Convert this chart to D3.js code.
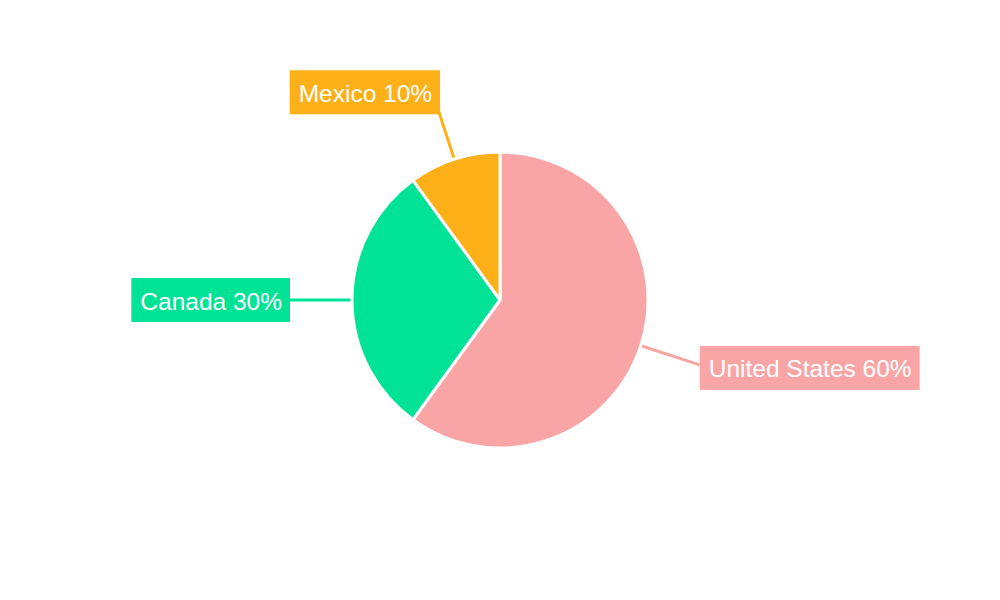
<!DOCTYPE html>
<html><head><meta charset="utf-8">
<script src="https://cdn.jsdelivr.net/npm/d3@7"></script>
<style>body{margin:0;background:#fff}svg{display:block}</style>
</head><body>
<svg id="c" width="1000" height="600"></svg>
<script>
const categories = ["United States", "Canada", "Mexico"];
const values = [60, 30, 10];
const colors = ["#f9a5a6", "#00e396", "#feb019"];

const data = categories.map((c, i) => ({name: c, value: values[i], color: colors[i]}));
const svg = d3.select("#c");
const cx = 500, cy = 300, R = 148;
const g = svg.append("g").attr("transform", `translate(${cx},${cy})`);
const pie = d3.pie().value(d => d.value).sort(null);
const arcs = pie(data);
const arc = d3.arc().innerRadius(0).outerRadius(R);
const lineStart = d3.arc().innerRadius(R + 1).outerRadius(R + 1);
const lineEnd = d3.arc().innerRadius(210).outerRadius(210);

// leader lines
g.selectAll("line.lead").data(arcs).enter().append("line")
  .attr("x1", d => lineStart.centroid(d)[0]).attr("y1", d => lineStart.centroid(d)[1])
  .attr("x2", d => lineEnd.centroid(d)[0]).attr("y2", d => lineEnd.centroid(d)[1])
  .attr("stroke", d => d.data.color).attr("stroke-width", 3);

g.selectAll("path").data(arcs).enter().append("path")
  .attr("d", arc).attr("fill", d => d.data.color)
  .attr("stroke", "#fff").attr("stroke-width", 3).attr("stroke-linejoin", "round");

const labels = g.selectAll("g.lab").data(arcs).enter().append("g");
labels.each(function(d) {
  const sel = d3.select(this);
  const [ax, ay] = lineEnd.centroid(d);
  const mid = (d.startAngle + d.endAngle) / 2;
  const right = Math.sin(mid) > 0;
  const rect = sel.append("rect").attr("fill", d.data.color);
  const t = sel.append("text").text(`${d.data.name} ${d.data.value}%`)
    .attr("font-family", "'Liberation Sans', Arial, sans-serif")
    .attr("font-size", 24.5).attr("fill", "#fff").attr("dominant-baseline", "central");
  const w = t.node().getComputedTextLength();
  const padL = 9, padR = 8, h = 44;
  const bw = w + padL + padR;
  let bx = right ? ax : ax - bw;
  let byc = ay;
  if (Math.abs(Math.cos(mid)) > 0.9) byc = ay - 8;
  else if (right) byc = ay + 3;
  if (!right && Math.abs(Math.cos(mid)) > 0.9) bx = ax - bw + 5;
  rect.attr("x", bx).attr("y", byc - h / 2).attr("width", bw).attr("height", h);
  t.attr("x", bx + padL).attr("y", byc + 1);
});
</script>
</body></html>
